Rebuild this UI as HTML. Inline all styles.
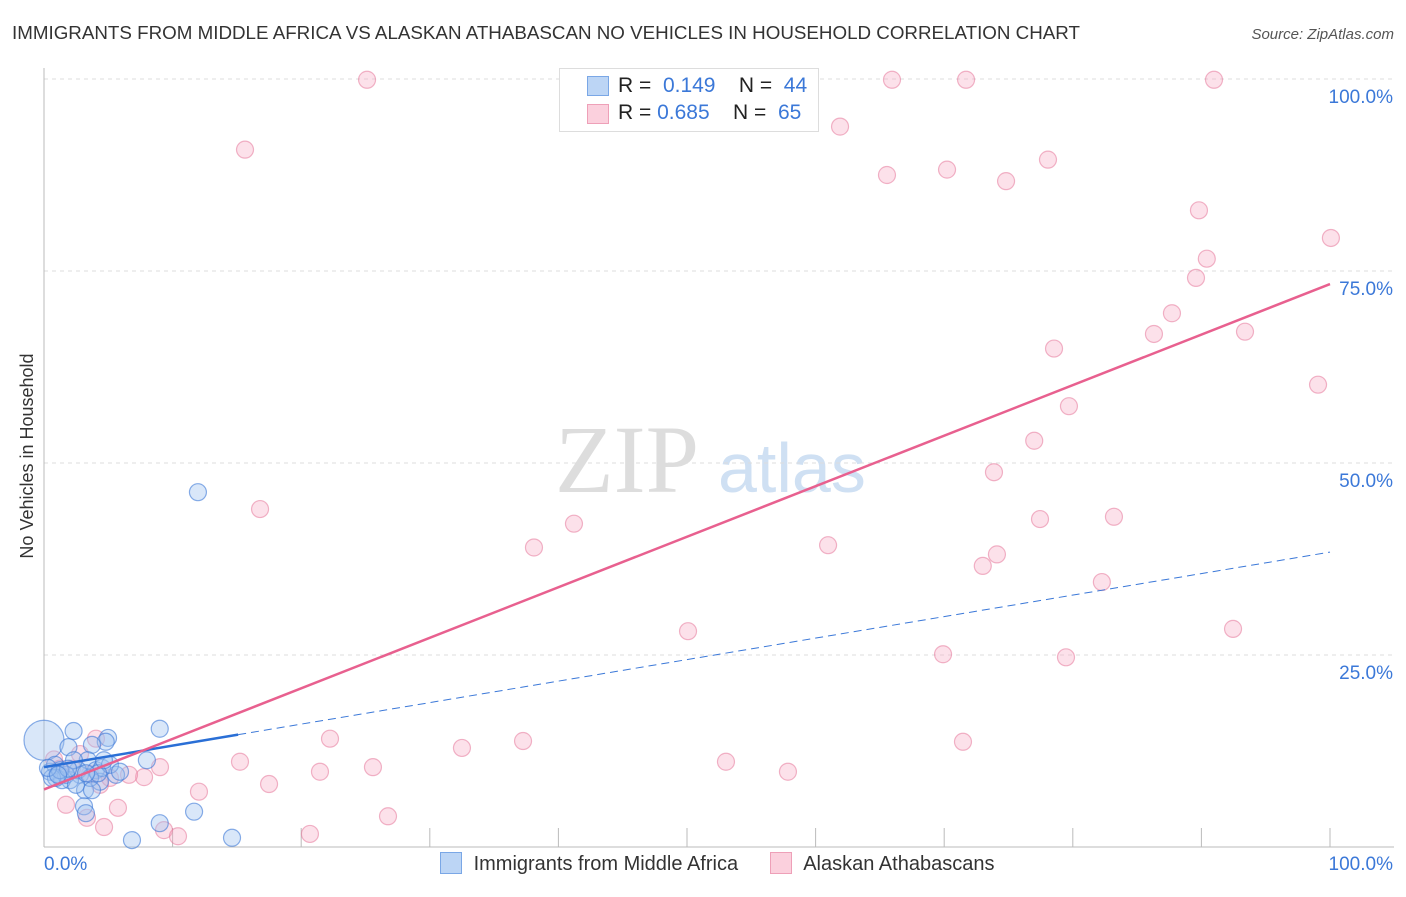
<!DOCTYPE html>
<html><head><meta charset="utf-8"><style>
body{margin:0;background:#fff;font-family:"Liberation Sans",sans-serif;}
#wrap{position:relative;width:1406px;height:892px;}
</style></head><body>
<div id="wrap">
<svg id="svg" width="1406" height="892" xmlns="http://www.w3.org/2000/svg">
<text x="12" y="39" font-size="18" fill="#333" textLength="1068" lengthAdjust="spacingAndGlyphs">IMMIGRANTS FROM MIDDLE AFRICA VS ALASKAN ATHABASCAN NO VEHICLES IN HOUSEHOLD CORRELATION CHART</text>
<text x="1394" y="39" font-size="15" fill="#555" font-style="italic" text-anchor="end">Source: ZipAtlas.com</text>
<text x="33" y="456" font-size="18" fill="#333" text-anchor="middle" transform="rotate(-90 33 456)">No Vehicles in Household</text>
<text x="555" y="492" font-size="96" fill="#ddd" font-family="Liberation Serif">ZIP</text>
<text x="718" y="492" font-size="70" fill="#cfe0f3">atlas</text>
<g id="grid"></g><g id="marks"></g>
</svg>
</div>
<script>
const yTicks=[25,50,75,100];
const yTickLabels=["25.0%","50.0%","75.0%","100.0%"];
const blueX=[0,2.3,1.9,4.98,4.8,3.73,9.0,8,11.97,3.4,4.04,2.8,1.24,0.47,0.86,2.02,3.19,4.35,5.6,1.4,2.64,4.51,3.58,3.11,3.26,9,11.67,6.84,14.62,1.71,0.93,2.33,5.13,2.49,0.62,1.24,3.73,1.87,4.2,5.91,4.66,3.27,0.31,1.09];
const blueY=[13.9,15.1,13.0,14.2,13.7,13.3,15.4,11.3,46.2,11.3,10.0,9.4,9.4,9.8,10.7,8.7,7.4,8.5,9.4,8.7,10.0,10.3,9.0,5.3,4.4,3.1,4.6,0.9,1.2,9.4,9.0,11.3,10.7,8.1,9.0,10.0,7.4,10.2,9.6,9.8,11.3,9.6,10.3,9.4];
const blueR=[20,8.5,8.5,8.5,8.5,8.5,8.5,8.5,8.5,8.5,8.5,8.5,8.5,8.5,8.5,8.5,8.5,8.5,8.5,8.5,8.5,8.5,8.5,8.5,8.5,8.5,8.5,8.5,8.5,8.5,8.5,8.5,8.5,8.5,8.5,8.5,8.5,8.5,8.5,8.5,8.5,8.5,8.5,8.5];
const pinkX=[25.12,65.94,71.7,90.98,15.63,61.9,65.55,70.22,74.81,78.07,89.81,100.07,90.42,89.58,87.71,86.31,93.39,78.54,99.07,79.7,77,73.87,16.8,41.21,38.1,77.45,83.2,60.97,74.1,73,82.26,50.08,92.46,69.91,79.47,22.24,32.5,37.25,71.46,15.24,53.03,57.85,25.58,21.46,17.5,9.02,7.78,6.61,12.05,5.75,1.71,3.34,4.67,9.33,10.42,20.68,26.75,4.04,2.8,0.78,1.24,4.35,5.13,2.18,3.58];
const pinkY=[99.9,99.9,99.9,99.9,90.8,93.8,87.5,88.2,86.7,89.5,82.9,79.3,76.6,74.1,69.5,66.8,67.1,64.9,60.2,57.4,52.9,48.8,44.0,42.1,39.0,42.7,43.0,39.3,38.1,36.6,34.5,28.1,28.4,25.1,24.7,14.1,12.9,13.8,13.7,11.1,11.1,9.8,10.4,9.8,8.2,10.4,9.1,9.4,7.2,5.1,5.5,3.8,2.6,2.2,1.4,1.7,4.0,14.1,12.1,11.4,10.2,8.1,9.0,10.2,9.5];
const pinkLine=[7.5,73.3];
const blueLine=[10.4,38.4];
const blueSolidEnd=15.1;

const X0=44,X1=1330,Y0=847,Y100=79;
const sx=v=>X0+(X1-X0)*v/100, sy=v=>Y0-(Y0-Y100)*v/100;
const NS="http://www.w3.org/2000/svg";
function mk(t,a,p){const e=document.createElementNS(NS,t);for(const k in a)e.setAttribute(k,a[k]);p.appendChild(e);return e;}
const grid=document.getElementById('grid'),marks=document.getElementById('marks');
yTicks.forEach((t,i)=>{
 const l=mk('line',{x1:44,x2:1394,y1:sy(t),y2:sy(t),stroke:'#ddd','stroke-dasharray':'4 4'},grid);
 
 
 const tx=mk('text',{x:1393,y:sy(t)+24,'font-size':19,fill:'#3b78d8','text-anchor':'end'},grid);
 tx.textContent=yTickLabels[i];
 
 
});
const ax=mk('line',{x1:44,x2:44,y1:68,y2:847,stroke:'#bbb'},grid);


const bx=mk('line',{x1:44,x2:1394,y1:847,y2:847,stroke:'#bbb'},grid);


for(let i=1;i<=10;i++){const t=mk('line',{x1:44+128.6*i,x2:44+128.6*i,y1:828,y2:847,stroke:'#bbb'},grid);
 
 }
[["0.0%",44,'start'],["100.0%",1393,'end']].forEach(a=>{const t=mk('text',{x:a[1],y:870,'font-size':19,fill:'#3b78d8','text-anchor':a[2]},grid);t.textContent=a[0];
 
 });
pinkX.forEach((x,i)=>{const c=mk('circle',{cx:sx(x),cy:sy(pinkY[i]),r:8.5,fill:'rgba(245,170,195,0.35)',stroke:'rgba(230,120,155,0.55)','stroke-width':1.2},marks);
 
 });
blueX.forEach((x,i)=>{const c=mk('circle',{cx:sx(x),cy:sy(blueY[i]),r:blueR[i],fill:'rgba(160,195,240,0.4)',stroke:'rgba(60,120,215,0.6)','stroke-width':1.2},marks);
 
 });
const by=v=>blueLine[0]+(blueLine[1]-blueLine[0])*v/100;
const bd=mk('line',{x1:sx(blueSolidEnd),y1:sy(by(blueSolidEnd)),x2:sx(100),y2:sy(by(100)),stroke:'#3b78d8','stroke-width':1,'stroke-dasharray':'8 5'},marks);


const bs=mk('line',{x1:sx(0),y1:sy(by(0)),x2:sx(blueSolidEnd),y2:sy(by(blueSolidEnd)),stroke:'#2a6fd6','stroke-width':2.5},marks);


const pl=mk('line',{x1:sx(0),y1:sy(pinkLine[0]),x2:sx(100),y2:sy(pinkLine[1]),stroke:'#e8608f','stroke-width':2.5},marks);


</script>
<div style="position:absolute;left:559px;top:68px;width:258px;height:62px;border:1px solid #ddd;background:#fff;font-size:21px;color:#222;">
 <div style="position:absolute;left:27px;top:7px;width:20px;height:18px;background:#bcd5f5;border:1px solid #7aa7e6"></div>
 <div style="position:absolute;left:58px;top:5px;">R = &nbsp;<span style="color:#3b78d8">0.149</span>&nbsp;&nbsp;&nbsp; N = &nbsp;<span style="color:#3b78d8">44</span></div>
 <div style="position:absolute;left:27px;top:35px;width:20px;height:18px;background:#fbd0dd;border:1px solid #eea0b8"></div>
 <div style="position:absolute;left:58px;top:32px;">R = <span style="color:#3b78d8">0.685</span>&nbsp;&nbsp;&nbsp; N = &nbsp;<span style="color:#3b78d8">65</span></div>
</div>
<div style="position:absolute;left:440px;top:852px;font-size:20px;color:#333;">
 <span style="display:inline-block;width:20px;height:20px;background:#bcd5f5;border:1px solid #7aa7e6;vertical-align:-4px"></span>
 <span style="margin-left:6px">Immigrants from Middle Africa</span>
 <span style="display:inline-block;width:20px;height:20px;background:#fbd0dd;border:1px solid #eea0b8;vertical-align:-4px;margin-left:26px"></span>
 <span style="margin-left:6px">Alaskan Athabascans</span>
</div>
</body></html>
